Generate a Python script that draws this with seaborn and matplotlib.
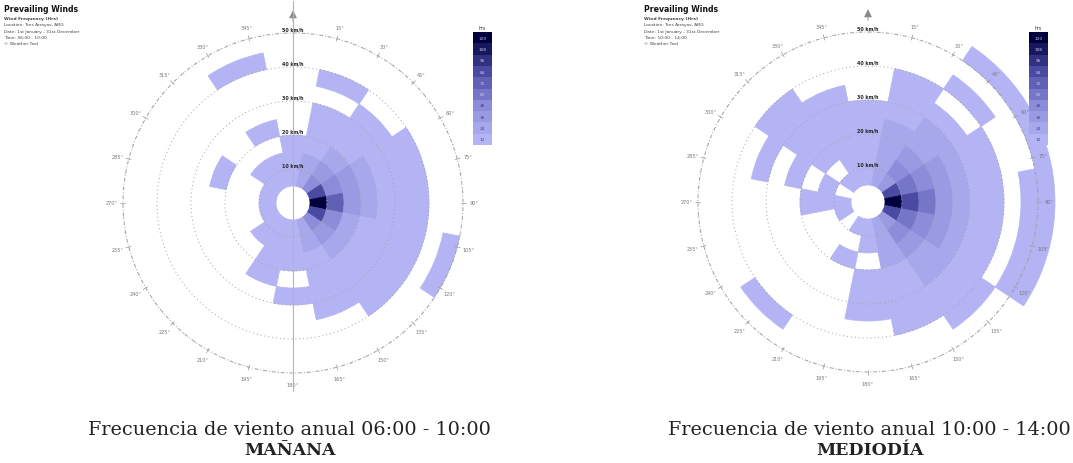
import numpy as np
import matplotlib
matplotlib.use("Agg")
import matplotlib.pyplot as plt
import seaborn as sns
from matplotlib.lines import Line2D

# ---------------- data ----------------
directions = ["N", "NNE", "NE", "ENE", "E", "ESE", "SE", "SSE",
              "S", "SSW", "SW", "WSW", "W", "WNW", "NW", "NNW"]
speed_lower = [5, 10, 15, 20, 25, 30, 35, 40, 45, 50]   # km/h, bin width 5
legend_labels = ["hrs", "120", "108", "96", "84", "72", "60", "48", "36", "24", "12"]
ring_labels = ["10 km/h", "20 km/h", "30 km/h", "40 km/h", "50 km/h"]
ring_values = [10, 20, 30, 40, 50]

# frequency class (x12 hrs) per direction, one list per speed ring -- MAÑANA
m_05 = [1, 2, 4, 7, 10, 7, 4, 2, 1, 1, 1, 1, 1, 1, 1, 1]
m_10 = [1, 2, 3, 4, 6, 4, 3, 2, 1, 1, 1, 0, 0, 0, 1, 1]
m_15 = [1, 1, 2, 3, 3, 2, 2, 1, 1, 1, 0, 0, 0, 0, 0, 0]
m_20 = [0, 1, 1, 2, 2, 1, 1, 1, 0, 1, 0, 0, 0, 1, 0, 1]
m_25 = [0, 1, 1, 1, 1, 1, 1, 1, 1, 0, 0, 0, 0, 0, 0, 0]
m_30 = [0, 0, 1, 1, 1, 1, 1, 1, 0, 0, 0, 0, 0, 0, 0, 0]
m_35 = [0, 1, 0, 1, 1, 1, 1, 0, 0, 0, 0, 0, 0, 0, 0, 0]
m_40 = [0, 0, 0, 0, 0, 0, 0, 0, 0, 0, 0, 0, 0, 0, 0, 1]
m_45 = [0, 0, 0, 0, 0, 1, 0, 0, 0, 0, 0, 0, 0, 0, 0, 0]
m_50 = [0, 0, 0, 0, 0, 0, 0, 0, 0, 0, 0, 0, 0, 0, 0, 0]

# MEDIODÍA
d_05 = [1, 2, 3, 7, 10, 7, 3, 2, 1, 1, 0, 1, 1, 0, 1, 1]
d_10 = [1, 2, 4, 5, 7, 5, 4, 2, 1, 0, 0, 0, 1, 1, 0, 1]
d_15 = [1, 2, 3, 4, 5, 4, 3, 2, 0, 1, 0, 0, 1, 0, 1, 1]
d_20 = [1, 2, 2, 3, 3, 3, 2, 1, 1, 0, 0, 0, 0, 1, 1, 1]
d_25 = [1, 1, 2, 2, 2, 2, 2, 1, 1, 0, 0, 0, 0, 0, 1, 1]
d_30 = [0, 1, 1, 1, 1, 1, 1, 1, 1, 0, 0, 0, 0, 1, 1, 1]
d_35 = [0, 1, 0, 1, 1, 1, 1, 1, 0, 0, 0, 0, 0, 0, 1, 0]
d_40 = [0, 0, 1, 0, 0, 0, 1, 0, 0, 0, 1, 0, 0, 0, 0, 0]
d_45 = [0, 0, 0, 0, 1, 1, 0, 0, 0, 0, 0, 0, 0, 0, 0, 0]
d_50 = [0, 0, 1, 1, 1, 1, 0, 0, 0, 0, 0, 0, 0, 0, 0, 0]

manana = [m_05, m_10, m_15, m_20, m_25, m_30, m_35, m_40, m_45, m_50]
mediodia = [d_05, d_10, d_15, d_20, d_25, d_30, d_35, d_40, d_45, d_50]

# ---------------- style ----------------
sns.set_theme(style="white")
plt.rcParams['font.family'] = ['DejaVu Sans']
palette = sns.blend_palette(["#b4b4f4", "#8c8cda", "#4a4aa2", "#00003c"], n_colors=10)

W, H = 1073, 464
fig = plt.figure(figsize=(W / 100, H / 100), dpi=100)
fig.patch.set_facecolor("white")

RMAX = 57.0
PX_PER_KMH = 3.4


def polar_axes(cx, cy):
    rad = RMAX * PX_PER_KMH
    ax = fig.add_axes([(cx - rad) / W, (H - cy - rad) / H, 2 * rad / W, 2 * rad / H],
                      projection="polar")
    return ax


def draw_rose(ax, rings, header_x, time_txt, legend_x, vline=False):
    ax.set_theta_zero_location("N")
    ax.set_theta_direction(-1)
    n = len(directions)
    width = 2 * np.pi / n
    theta = np.arange(n) * width
    for lower, ring in zip(speed_lower, rings):
        for t, lvl in zip(theta, ring):
            if lvl > 0:
                c = palette[lvl - 1]
                ax.bar(t, 5, width=width, bottom=lower, color=c,
                       edgecolor=c, linewidth=0.5, align="center", zorder=2)
    ax.set_ylim(0, RMAX)
    ax.set_xticks([])
    ax.set_yticks([])
    ax.grid(False)
    ax.spines["polar"].set_visible(False)
    ax.set_facecolor("none")
    tt = np.linspace(0, 2 * np.pi, 400)
    for rv, rl in zip(ring_values, ring_labels):
        ax.plot(tt, np.full_like(tt, rv), color="#a0a0a0", lw=0.7,
                ls=(0, (1, 3)) if rv < 50 else (0, (4, 2, 1, 2)), zorder=3)
        ax.text(0, rv + 0.3, rl, fontsize=3.4, ha="center", va="bottom",
                color="#222222", fontweight="bold", zorder=4)
    # compass labels
    for deg in range(15, 360, 15):
        ax.text(np.deg2rad(deg), 53.3, f"{deg}°", fontsize=3.6, ha="center", va="center",
                color="#777777", clip_on=False)
        ax.plot([np.deg2rad(deg)] * 2, [49.3, 50.9], color="#999999", lw=0.5, zorder=3)
    for deg in range(0, 360, 5):
        ax.plot([np.deg2rad(deg)] * 2, [49.8, 50.3], color="#b0b0b0", lw=0.4, zorder=3)
    # north arrow
    ax.annotate("", xy=(0, 57.5), xytext=(0, 52.5), annotation_clip=False,
                arrowprops=dict(arrowstyle="-|>", color="#888888", lw=0.6))
    # header
    fig.text(header_x / W, 1 - 5 / H, "Prevailing Winds", fontsize=5.6, fontweight="bold",
             va="top", ha="left", color="#111111")
    small = ["Wind Frequency (Hrs)", "Location: Tres Arroyos, ARG",
             "Date: 1st January - 31st December", f"Time: {time_txt}", "© Weather Tool"]
    for i, s in enumerate(small):
        fig.text(header_x / W, 1 - (17 + i * 6.3) / H, s, fontsize=3.2,
                 fontweight="bold" if i == 0 else "normal", va="top", ha="left", color="#444444")
    # legend
    lw, top, step = 19, 33, 11.3
    fig.text((legend_x + lw / 2) / W, 1 - (top - 2) / H, legend_labels[0], fontsize=3.4,
             ha="center", va="bottom", color="#333333")
    for i in range(10):
        y0 = top + i * step
        lax = fig.add_axes([legend_x / W, 1 - (y0 + step) / H, lw / W, step / H])
        lax.set_facecolor(palette[9 - i])
        lax.set_xticks([]); lax.set_yticks([])
        for s in lax.spines.values():
            s.set_visible(False)
        lax.text(0.5, 0.5, legend_labels[i + 1], fontsize=3.1, ha="center", va="center",
                 color="#c8c8ee" if i < 6 else "#404080", transform=lax.transAxes)
    if vline:
        fig.add_artist(Line2D([292.5 / W] * 2, [1 - 2 / H, 1 - 392 / H],
                              color="#b4b4b4", lw=0.8, transform=fig.transFigure))


ax1 = polar_axes(293, 204)
draw_rose(ax1, manana, 4, "06:00 - 10:00", 473, vline=True)
ax2 = polar_axes(868, 203)
draw_rose(ax2, mediodia, 644, "10:00 - 14:00", 1029)

serif = ["DejaVu Serif"]
fig.text(289 / W, 1 - 430 / H, "Frecuencia de viento anual 06:00 - 10:00", fontsize=13.9,
         ha="center", va="center", family=serif, color="#222222")
fig.text(290 / W, 1 - 451 / H, "MAÑANA", fontsize=12.5, ha="center", va="center",
         family=serif, fontweight="bold", color="#222222")
fig.text(869 / W, 1 - 430 / H, "Frecuencia de viento anual 10:00 - 14:00", fontsize=13.9,
         ha="center", va="center", family=serif, color="#222222")
fig.text(870 / W, 1 - 451 / H, "MEDIODÍA", fontsize=12.5, ha="center", va="center",
         family=serif, fontweight="bold", color="#222222")

fig.savefig("out.png", dpi=100, facecolor="white")
